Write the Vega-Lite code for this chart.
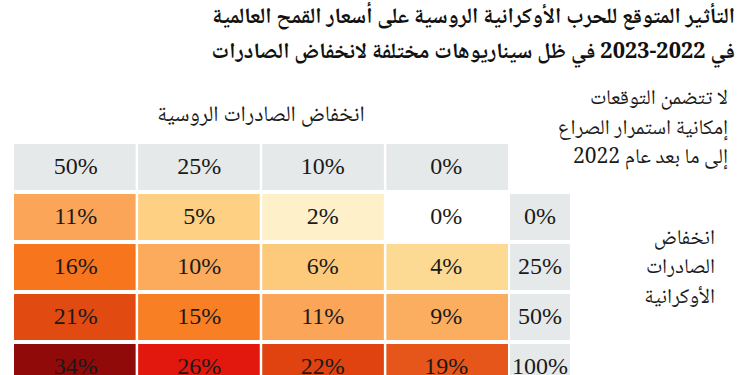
{
  "$schema": "https://vega.github.io/schema/vega-lite/v6.json",
  "background": "white",
  "padding": {"left": 14, "top": 5, "right": 10, "bottom": 0},
  "config": {
    "view": {"stroke": null},
    "font": "Liberation Serif, Noto Naskh Arabic, DejaVu Sans",
    "concat": {"spacing": 2}
  },
  "title": {
    "text": ["\u202bالتأثير المتوقع للحرب الأوكرانية الروسية على أسعار القمح العالمية\u202c", "\u202bفي 2022-2023 في ظل سيناريوهات مختلفة لانخفاض الصادرات\u202c"],
    "anchor": "end",
    "font": "Noto Naskh Arabic, Noto Sans Arabic, DejaVu Sans",
    "fontSize": 22,
    "fontWeight": "bold",
    "lineHeight": 35,
    "color": "#111111",
    "offset": 24,
    "dx": 7
  },
  "datasets": {
    "cells": [
      {"ru": "50%", "ua": "0%", "v": 0.11},
      {"ru": "25%", "ua": "0%", "v": 0.05},
      {"ru": "10%", "ua": "0%", "v": 0.02},
      {"ru": "0%", "ua": "0%", "v": 0.0},
      {"ru": "50%", "ua": "25%", "v": 0.16},
      {"ru": "25%", "ua": "25%", "v": 0.10},
      {"ru": "10%", "ua": "25%", "v": 0.06},
      {"ru": "0%", "ua": "25%", "v": 0.04},
      {"ru": "50%", "ua": "50%", "v": 0.21},
      {"ru": "25%", "ua": "50%", "v": 0.15},
      {"ru": "10%", "ua": "50%", "v": 0.11},
      {"ru": "0%", "ua": "50%", "v": 0.09},
      {"ru": "50%", "ua": "100%", "v": 0.34},
      {"ru": "25%", "ua": "100%", "v": 0.26},
      {"ru": "10%", "ua": "100%", "v": 0.22},
      {"ru": "0%", "ua": "100%", "v": 0.19}
    ],
    "cols": [{"ru": "50%"}, {"ru": "25%"}, {"ru": "10%"}, {"ru": "0%"}],
    "rows": [{"ua": "0%"}, {"ua": "25%"}, {"ua": "50%"}, {"ua": "100%"}],
    "sub": [{"label": "\u202bانخفاض الصادرات الروسية\u202c"}],
    "notes": [
      {"line": 1, "label": "\u202bلا تتضمن التوقعات\u202c"},
      {"line": 2, "label": "\u202bإمكانية استمرار الصراع\u202c"},
      {"line": 3, "label": "\u202bإلى ما بعد عام 2022\u202c"}
    ],
    "side": [
      {"line": 1, "label": "\u202bانخفاض\u202c"},
      {"line": 2, "label": "\u202bالصادرات\u202c"},
      {"line": 3, "label": "\u202bالأوكرانية\u202c"}
    ]
  },
  "bounds": "flush",
  "hconcat": [
    {
      "width": 494,
      "height": 296,
      "layer": [
        {
          "data": {"name": "cols"},
          "mark": {"type": "rect", "color": "#E6E9E9"},
          "encoding": {
            "x": {"field": "ru", "type": "nominal", "sort": null},
            "y": {"datum": "header", "type": "nominal"}
          }
        },
        {
          "data": {"name": "cols"},
          "mark": {"type": "text", "fontSize": 24, "color": "#1a1a1a", "font": "Liberation Serif"},
          "encoding": {
            "x": {"field": "ru", "type": "nominal", "sort": null},
            "y": {"datum": "header", "type": "nominal"},
            "text": {"field": "ru", "type": "nominal"}
          }
        },
        {
          "data": {"name": "cells"},
          "mark": {"type": "rect"},
          "encoding": {
            "x": {"field": "ru", "type": "nominal", "sort": null},
            "y": {"field": "ua", "type": "nominal", "sort": null},
            "color": {
              "field": "v",
              "type": "quantitative",
              "legend": null,
              "scale": {
                "type": "linear",
                "interpolate": "rgb",
                "domain": [0, 0.02, 0.045, 0.06, 0.09, 0.11, 0.155, 0.19, 0.215, 0.26, 0.34],
                "range": ["#FFFFFF", "#FEF1CA", "#FDD487", "#FDC97A", "#FCAE60", "#FBA558", "#F97A1E", "#E6561A", "#E0480F", "#E2180E", "#8F0A09"]
              }
            }
          }
        },
        {
          "data": {"name": "cells"},
          "mark": {"type": "text", "fontSize": 24, "color": "#1a1a1a", "font": "Liberation Serif"},
          "encoding": {
            "x": {"field": "ru", "type": "nominal", "sort": null},
            "y": {"field": "ua", "type": "nominal", "sort": null},
            "text": {"field": "v", "type": "quantitative", "format": ".0%"}
          }
        },
        {
          "data": {"name": "sub"},
          "mark": {"type": "text", "fontSize": 22, "dy": -3, "color": "#1a1a1a", "font": "Noto Naskh Arabic, Noto Sans Arabic, DejaVu Sans"},
          "encoding": {
            "x": {"datum": "all", "type": "nominal", "axis": null, "scale": {"paddingInner": 0, "paddingOuter": 0}},
            "y": {"datum": "title", "type": "nominal"},
            "text": {"field": "label", "type": "nominal"}
          }
        }
      ],
      "resolve": {"scale": {"x": "independent", "y": "shared"}},
      "encoding": {
        "x": {"field": "ru", "type": "nominal", "axis": null,
              "scale": {"domain": ["50%", "25%", "10%", "0%"], "paddingInner": 0.02, "paddingOuter": 0}},
        "y": {"field": "ua", "type": "nominal", "axis": null,
              "scale": {"domain": ["title", "header", "0%", "25%", "50%", "100%"], "paddingInner": 0.08, "paddingOuter": 0}}
      }
    },
    {
      "width": 60,
      "height": 296,
      "data": {"name": "rows"},
      "encoding": {
        "x": {"datum": "row", "type": "nominal", "axis": null, "scale": {"paddingInner": 0, "paddingOuter": 0}},
        "y": {"field": "ua", "type": "nominal", "axis": null,
              "scale": {"domain": ["title", "header", "0%", "25%", "50%", "100%"], "paddingInner": 0.08, "paddingOuter": 0}}
      },
      "layer": [
        {"mark": {"type": "rect", "color": "#E6E9E9"}},
        {
          "mark": {"type": "text", "fontSize": 24, "color": "#1a1a1a", "font": "Liberation Serif"},
          "encoding": {"text": {"field": "ua", "type": "nominal"}}
        }
      ]
    },
    {
      "bounds": "flush",
      "spacing": 62,
      "vconcat": [
        {
          "width": 156,
          "height": 67,
          "data": {"name": "notes"},
          "mark": {"type": "text", "align": "right", "baseline": "middle", "x": "width", "fontSize": 21, "color": "#1a1a1a", "font": "Noto Naskh Arabic, Noto Sans Arabic, DejaVu Sans"},
          "encoding": {
            "y": {"field": "line", "type": "ordinal", "axis": null,
                  "scale": {"type": "point", "padding": 0.155}},
            "text": {"field": "label", "type": "nominal"}
          }
        },
        {
          "width": 143,
          "height": 88.5,
          "data": {"name": "side"},
          "mark": {"type": "text", "align": "right", "baseline": "middle", "x": "width", "fontSize": 21, "color": "#1a1a1a", "font": "Noto Naskh Arabic, Noto Sans Arabic, DejaVu Sans"},
          "encoding": {
            "y": {"field": "line", "type": "ordinal", "axis": null,
                  "scale": {"type": "point", "padding": 0.5}},
            "text": {"field": "label", "type": "nominal"}
          }
        }
      ]
    }
  ]
}
